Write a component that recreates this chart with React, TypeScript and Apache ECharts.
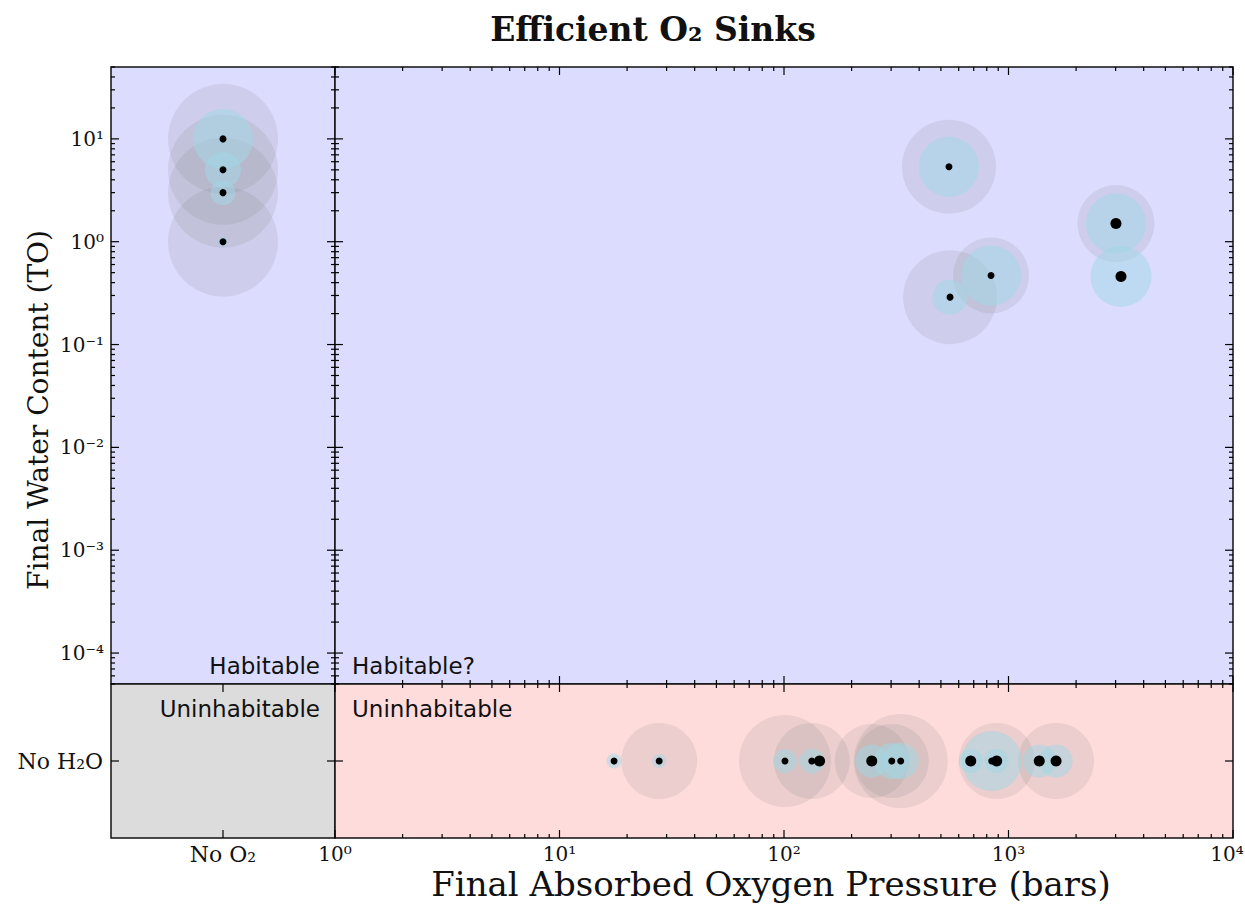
import React, { useEffect, useRef } from "react";
import * as echarts from "echarts";

// ---- data -------------------------------------------------------------
const NO_O2 = "No O₂";
const NO_H2O = "No H₂O";

// Runs that ended with water but no absorbed oxygen: final water (TO)
const noO2Water = [10, 5, 3, 1];
const noO2Outer = [110, 110, 110, 110];
const noO2Inner = [60, 36, 25, 10];
const noO2Dot = [7, 7, 7, 7];

// Runs that kept water and absorbed oxygen
const wetPressure = [543, 3010, 3170, 836, 549];
const wetWater = [5.36, 1.5, 0.46, 0.47, 0.289];
const wetOuter = [94, 77, 0, 76, 94];
const wetInner = [60, 60, 61, 60, 35];
const wetDot = [7, 11, 11, 7, 7];

// Runs that lost all of their water
const dryPressure = [17.5, 27.8, 101, 133, 144, 246, 302, 331, 679, 842, 886, 1371, 1629];
const dryOuter = [0, 76, 92, 76, 0, 74, 74, 94, 0, 0, 76, 0, 76];
const dryInner = [15, 14, 24, 25, 0, 33, 36, 36, 24, 60, 24, 33, 33];
const dryDot = [7, 7, 7, 7, 11, 11, 7, 7, 11, 7, 11, 11, 11];

// Axis ranges / tick exponents
const waterRange = [5e-5, 50];
const pressureRange = [1, 1e4];
const waterExponents = [-4, -3, -2, -1, 0, 1];
const pressureExponents = [0, 1, 2, 3, 4];

// ---- layout & style ---------------------------------------------------
const LEFT = 111;
const MID = 335;
const RIGHT = 1233;
const TOP = 67;
const SPLIT = 684;
const BOTTOM = 838;

const SERIF = "'DejaVu Serif', serif";
const SANS = "'DejaVu Sans', sans-serif";
const OUTER_COLOR = "rgba(128,128,128,0.15)";
const INNER_COLOR = "rgba(160,215,230,0.5)";

const SUP: Record<string, string> = {
  "0": "⁰", "1": "¹", "2": "²", "3": "³", "4": "⁴",
  "5": "⁵", "6": "⁶", "7": "⁷", "8": "⁸", "9": "⁹", "-": "⁻",
};
const powLabel = (e: number) => "10" + String(e).split("").map((c) => SUP[c]).join("");

function logLabel(exps: number[], lastShift = false) {
  const last = exps[exps.length - 1];
  return (v: number) => {
    const e = Math.log10(v);
    const r = Math.round(e);
    if (Math.abs(e - r) > 1e-6 || !exps.includes(r)) return "";
    // the last label sits on the right edge of the page; nudge it inward
    if (lastShift && r === last) return `{edge|${powLabel(r)}}`;
    return powLabel(r);
  };
}

// Tick marks along log axes: majors at decades, minors at 2..9
function logTickValues(range: number[]) {
  const out: { v: number; major: boolean }[] = [];
  const lo = Math.floor(Math.log10(range[0]));
  const hi = Math.ceil(Math.log10(range[1]));
  for (let k = lo; k <= hi; k++) {
    for (let m = 1; m <= 9; m++) {
      const v = m * Math.pow(10, k);
      if (v >= range[0] * 0.999 && v <= range[1] * 1.001) out.push({ v, major: m === 1 });
    }
  }
  return out;
}

const MAJOR = 8;
const MINOR = 4;

// side: 0 left, 1 right, 2 top, 3 bottom
function tickSeries(grid: number, items: number[][]) {
  return {
    type: "custom",
    xAxisIndex: grid,
    yAxisIndex: grid,
    silent: true,
    z: 10,
    dimensions: ["x", "y", "side", "len"],
    encode: { x: 0, y: 1 },
    data: items,
    renderItem: (params: any, api: any) => {
      const cs = params.coordSys;
      const side = api.value(2);
      const len = api.value(3);
      const p = api.coord([api.value(0), api.value(1)]);
      let shape;
      if (side === 0) shape = { x1: cs.x, y1: p[1], x2: cs.x + len, y2: p[1] };
      else if (side === 1) shape = { x1: cs.x + cs.width, y1: p[1], x2: cs.x + cs.width - len, y2: p[1] };
      else if (side === 2) shape = { x1: p[0], y1: cs.y, x2: p[0], y2: cs.y + len };
      else shape = { x1: p[0], y1: cs.y + cs.height, x2: p[0], y2: cs.y + cs.height - len };
      return { type: "line", shape, style: { stroke: "#000", lineWidth: 1.2 } };
    },
  };
}

function scatter(grid: number, data: number[][], color: string, z: number) {
  return {
    type: "scatter",
    xAxisIndex: grid,
    yAxisIndex: grid,
    silent: true,
    z,
    symbol: "circle",
    symbolSize: (val: number[]) => val[2],
    itemStyle: { color, borderWidth: 0, opacity: 1 },
    emphasis: { disabled: true },
    data: data.filter((d) => d[2] > 0),
  };
}

function buildOption() {
  const waterTicks = logTickValues(waterRange);
  const pressureTicks = logTickValues(pressureRange);

  // grid 0: no O2, with water
  const t0: number[][] = [];
  waterTicks.forEach((t) => {
    t0.push([0, t.v, 0, t.major ? MAJOR : MINOR]);
    t0.push([0, t.v, 1, t.major ? MAJOR : MINOR]);
  });
  // grid 1: O2 and water
  const t1: number[][] = [];
  waterTicks.forEach((t) => {
    t1.push([10, t.v, 0, t.major ? MAJOR : MINOR]);
    t1.push([10, t.v, 1, t.major ? MAJOR : MINOR]);
  });
  pressureTicks.forEach((t) => {
    t1.push([t.v, 1, 2, t.major ? MAJOR : MINOR]);
    t1.push([t.v, 1, 3, t.major ? MAJOR : MINOR]);
  });
  // grid 2: no O2, no water
  const t2: number[][] = [
    [0, 0, 0, MAJOR], [0, 0, 1, MAJOR], [0, 0, 2, MAJOR], [0, 0, 3, MAJOR],
  ];
  // grid 3: O2, no water
  const t3: number[][] = [[10, 0, 0, MAJOR], [10, 0, 1, MAJOR]];
  pressureTicks.forEach((t) => {
    t3.push([t.v, 0, 2, t.major ? MAJOR : MINOR]);
    t3.push([t.v, 0, 3, t.major ? MAJOR : MINOR]);
  });

  const gridBase = {
    show: true,
    borderColor: "#111",
    borderWidth: 1.5,
    containLabel: false,
    outerBoundsMode: "none",
  };
  const grids = [
    { ...gridBase, left: LEFT, top: TOP, width: MID - LEFT, height: SPLIT - TOP, backgroundColor: "#dcdcff" },
    { ...gridBase, left: MID, top: TOP, width: RIGHT - MID, height: SPLIT - TOP, backgroundColor: "#dcdcff" },
    { ...gridBase, left: LEFT, top: SPLIT, width: MID - LEFT, height: BOTTOM - SPLIT, backgroundColor: "#dcdcdc" },
    { ...gridBase, left: MID, top: SPLIT, width: RIGHT - MID, height: BOTTOM - SPLIT, backgroundColor: "#ffdcdc" },
  ];

  const bare = {
    axisLine: { show: false },
    axisTick: { show: false },
    splitLine: { show: false },
  };
  const labelStyle = { fontFamily: SERIF, fontSize: 20, color: "#111" };
  const catStyle = { fontFamily: SERIF, fontSize: 22, color: "#111" };

  const xAxis = [
    { ...bare, gridIndex: 0, type: "category", data: [NO_O2], axisLabel: { show: false } },
    { ...bare, gridIndex: 1, type: "log", logBase: 10, min: pressureRange[0], max: pressureRange[1], axisLabel: { show: false } },
    { ...bare, gridIndex: 2, type: "category", data: [NO_O2], axisLabel: { ...catStyle, margin: 5 } },
    {
      ...bare, gridIndex: 3, type: "log", logBase: 10, min: pressureRange[0], max: pressureRange[1],
      axisLabel: {
        ...labelStyle, margin: 6, showMinLabel: true, showMaxLabel: true,
        formatter: logLabel(pressureExponents, true),
        rich: { edge: { ...labelStyle, padding: [0, 12, 0, 0] } },
      },
    },
  ];
  const yAxis = [
    {
      ...bare, gridIndex: 0, type: "log", logBase: 10, min: waterRange[0], max: waterRange[1],
      axisLabel: { ...labelStyle, margin: 7, formatter: logLabel(waterExponents) },
    },
    { ...bare, gridIndex: 1, type: "log", logBase: 10, min: waterRange[0], max: waterRange[1], axisLabel: { show: false } },
    { ...bare, gridIndex: 2, type: "category", data: [NO_H2O], axisLabel: { ...catStyle, margin: 8 } },
    { ...bare, gridIndex: 3, type: "category", data: [NO_H2O], axisLabel: { show: false } },
  ];

  const series: any[] = [
    scatter(0, noO2Water.map((w, i) => [0, w, noO2Outer[i]]), OUTER_COLOR, 2),
    scatter(0, noO2Water.map((w, i) => [0, w, noO2Inner[i]]), INNER_COLOR, 3),
    scatter(0, noO2Water.map((w, i) => [0, w, noO2Dot[i]]), "#000", 4),
    scatter(1, wetPressure.map((p, i) => [p, wetWater[i], wetOuter[i]]), OUTER_COLOR, 2),
    scatter(1, wetPressure.map((p, i) => [p, wetWater[i], wetInner[i]]), INNER_COLOR, 3),
    scatter(1, wetPressure.map((p, i) => [p, wetWater[i], wetDot[i]]), "#000", 4),
    scatter(3, dryPressure.map((p, i) => [p, 0, dryOuter[i]]), OUTER_COLOR, 2),
    scatter(3, dryPressure.map((p, i) => [p, 0, dryInner[i]]), INNER_COLOR, 3),
    scatter(3, dryPressure.map((p, i) => [p, 0, dryDot[i]]), "#000", 4),
    tickSeries(0, t0),
    tickSeries(1, t1),
    tickSeries(2, t2),
    tickSeries(3, t3),
  ];

  const regionText = (text: string, x: number, y: number, align: string) => ({
    type: "text",
    x,
    y,
    z: 20,
    style: { text, fill: "#111", font: `23px ${SANS}`, textAlign: align, textVerticalAlign: "middle" },
  });

  const graphic = [
    {
      type: "text", x: 653, y: 29,
      style: { text: "Efficient O₂ Sinks", fill: "#111", font: `bold 33px ${SERIF}`, textAlign: "center", textVerticalAlign: "middle" },
    },
    {
      type: "text", x: 771, y: 884,
      style: { text: "Final Absorbed Oxygen Pressure (bars)", fill: "#111", font: `34px ${SERIF}`, textAlign: "center", textVerticalAlign: "middle" },
    },
    {
      type: "text", x: 38, y: 410, rotation: Math.PI / 2,
      style: { text: "Final Water Content (TO)", fill: "#111", font: `28px ${SERIF}`, textAlign: "center", textVerticalAlign: "middle" },
    },
    regionText("Habitable", 320, 666, "right"),
    regionText("Uninhabitable", 320, 709, "right"),
    regionText("Habitable?", 352, 666, "left"),
    regionText("Uninhabitable", 352, 709, "left"),
  ];

  return {
    animation: false,
    backgroundColor: "#fff",
    grid: grids,
    xAxis,
    yAxis,
    series,
    graphic,
  };
}

export default function App() {
  const ref = useRef<HTMLDivElement>(null);
  useEffect(() => {
    if (!ref.current) return;
    const chart = echarts.init(ref.current, undefined, { renderer: "svg" });
    chart.setOption(buildOption() as any);
    return () => chart.dispose();
  }, []);
  return (
    <div
      ref={ref}
      style={{ position: "absolute", left: 0, top: 0, width: 1245, height: 914 }}
    />
  );
}
